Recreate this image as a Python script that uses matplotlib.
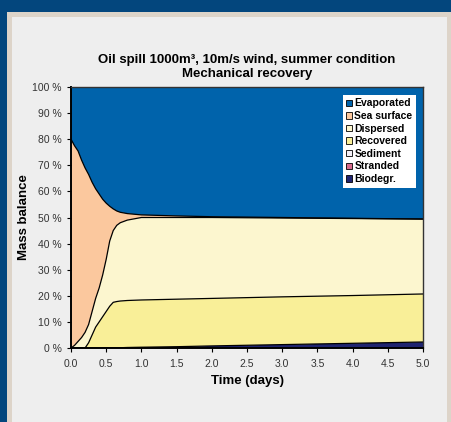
import numpy as np
import matplotlib
matplotlib.use("Agg")
import matplotlib.pyplot as plt
from matplotlib.patches import Rectangle, Patch

plt.rcParams['font.family'] = ['Liberation Sans', 'DejaVu Sans']

# time (days)
t = [0.0, 0.05, 0.1, 0.15, 0.2, 0.25, 0.3, 0.35, 0.4, 0.45, 0.5, 0.55,
     0.6, 0.65, 0.7, 0.8, 1.0, 1.5, 2.0, 3.0, 4.0, 5.0]

# mass balance components (%)
biodegr = [0, 0, 0, 0, 0, 0, 0, 0, 0, 0, 0.1, 0.1,
           0.1, 0.1, 0.1, 0.2, 0.3, 0.5, 0.8, 1.3, 1.8, 2.3]
stranded = [0] * 22
sediment = [0] * 22
recovered = [0, 0, 0, 0, 0, 2, 5, 8, 10, 12, 13.9, 15.9,
             17.4, 17.7, 17.9, 18.0, 18.1, 18.2, 18.2, 18.3, 18.3, 18.4]
dispersed = [0, 1, 2.5, 4, 6, 7, 9, 11, 13, 16, 20, 25,
             27.5, 29.2, 30, 30.8, 31.6, 31.3, 31.0, 30.2, 29.5, 28.7]
sea_surface = [80, 76.5, 73, 68, 63, 57.5, 49.5, 42, 36, 29, 21.5, 13.3,
               8.3, 5.5, 4, 2.5, 1, 0.6, 0.3, 0.2, 0.1, 0.0]
evaporated = [20, 22.5, 24.5, 28, 31, 33.5, 36.5, 39, 41, 43, 44.5, 45.7,
              46.7, 47.5, 48, 48.5, 49, 49.4, 49.7, 50, 50.3, 50.6]

names = ['Evaporated', 'Sea surface', 'Dispersed', 'Recovered',
         'Sediment', 'Stranded', 'Biodegr.']
colors = ['#0063ab', '#fbc89e', '#fcf6cf', '#f9ef98',
          '#f4f0f8', '#d66a8c', '#1f2470']

W, H = 451, 422
fig = plt.figure(figsize=(W / 100, H / 100), dpi=100, facecolor='#03467d')
fig.patches.append(Rectangle((7 / W, 0), 1, 1 - 12 / H, transform=fig.transFigure,
                             facecolor='#ddd4c9', edgecolor='none', zorder=-10))
fig.patches.append(Rectangle((12 / W, 0), (447 - 12) / W, 1 - 17 / H,
                             transform=fig.transFigure,
                             facecolor='#eeeeee', edgecolor='none', zorder=-9))

ax = fig.add_axes([71 / W, 1 - 348 / H, (423 - 71) / W, (348 - 87) / H])
ax.set_zorder(5)

series = [biodegr, stranded, sediment, recovered, dispersed, sea_surface, evaporated]
ax.stackplot(t, *series, colors=colors[::-1], linewidth=0)

# boundary lines like the excel chart
cum = np.cumsum(np.array(series, dtype=float), axis=0)
for k in [0, 3, 4, 5]:
    ax.plot(t, cum[k], color='black', lw=0.9)

ax.set_xlim(0, 5)
ax.set_ylim(0, 100)
ax.set_xticks(np.arange(0, 5.01, 0.5))
ax.set_xticklabels(['%.1f' % v for v in np.arange(0, 5.01, 0.5)])
ax.set_yticks(range(0, 101, 10))
ax.set_yticklabels(['%d %%' % v for v in range(0, 101, 10)])
ax.tick_params(labelsize=7.5, length=3, width=0.8, direction='out',
               colors='black', labelcolor='#333333')
ax.tick_params(axis='x', pad=5)
for s in ['left', 'bottom']:
    ax.spines[s].set_linewidth(1.4)
for s in ['top', 'right']:
    ax.spines[s].set_color('#333333')
    ax.spines[s].set_linewidth(1.0)

ax.set_xlabel('Time (days)', fontsize=9.5, fontweight='bold', labelpad=4)
ax.set_ylabel('Mass balance', fontsize=9.5, fontweight='bold')
ax.yaxis.set_label_coords(-0.117, 0.5)
ax.set_title('Oil spill 1000m³, 10m/s wind, summer condition\nMechanical recovery',
             fontsize=9.5, fontweight='bold', pad=7, linespacing=1.25)

handles = [Patch(facecolor=c, edgecolor='black', linewidth=0.6) for c in colors]
leg = ax.legend(handles, names, loc='upper right', bbox_to_anchor=(0.995, 0.99),
                prop={'size': 7.5, 'weight': 'bold'}, handlelength=0.55,
                handleheight=0.55, handletextpad=0.2, labelspacing=0.25,
                borderpad=0.35, fancybox=False, framealpha=1)
leg.get_frame().set_edgecolor('none')

fig.savefig('out.png', dpi=100, facecolor=fig.get_facecolor())
